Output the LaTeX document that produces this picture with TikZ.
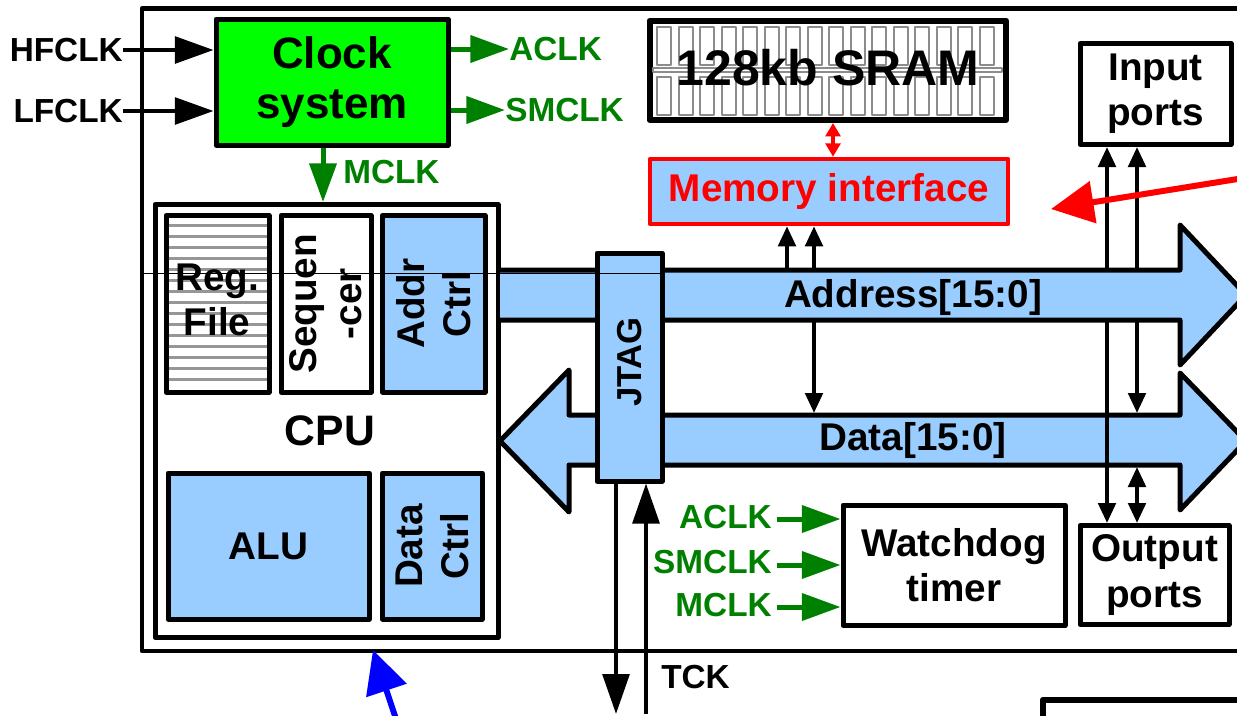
\documentclass[tikz,border=0pt]{standalone}
\usepackage{fontspec}
\setmainfont{Liberation Sans}
\usetikzlibrary{arrows.meta,fit}
\definecolor{busblue}{RGB}{153,204,255}
\definecolor{clkgreen}{RGB}{0,255,0}
\definecolor{sigreen}{RGB}{0,128,0}
\definecolor{cellgray}{RGB}{140,140,140}
\definecolor{hatchgray}{RGB}{150,150,150}

\begin{document}
\begin{tikzpicture}[x=0.75pt,y=-0.75pt,line join=round,
  blk/.style={draw=black,line width=3.75pt,inner sep=0pt},
  wbox/.style={blk,fill=white},
  bbox/.style={blk,fill=busblue},
  lbltwentynine/.style={inner sep=0pt,align=center,font=\bfseries\fontsize{29}{34}\selectfont},
  lblclock/.style={inner sep=0pt,align=center,font=\bfseries\fontsize{33}{38}\selectfont},
  lblcpu/.style={inner sep=0pt,font=\bfseries\fontsize{32}{36}\selectfont},
  lblsram/.style={inner sep=0pt,font=\bfseries\fontsize{37.5}{42}\selectfont},
  lbljtag/.style={inner sep=0pt,font=\bfseries\fontsize{26}{30}\selectfont},
  lblsig/.style={inner sep=0pt,font=\bfseries\fontsize{25}{29}\selectfont},
  gsig/.style={lblsig,text=sigreen},
  blkarr/.style={line width=3pt,-{Triangle[length=29pt,width=20pt]}},
  grnarr/.style={draw=sigreen,line width=3.75pt,-{Triangle[length=29pt,width=20pt]}},
  thinarr/.style={line width=3pt,-{Triangle[length=15pt,width=13pt]}},
  thindbl/.style={line width=3pt,{Triangle[length=15pt,width=13pt]}-{Triangle[length=15pt,width=13pt]}},
  jtagarr/.style={line width=3pt,-{Triangle[length=30pt,width=20pt]}},
  callout/.style={line width=4.5pt,-{Triangle[length=32pt,width=31pt]}},
]
\useasboundingbox (0,0) rectangle (1237,715);
\clip (0,0) rectangle (1237,715);

% chip outline and neighbouring block
\draw[line width=3.4pt] (1250,8.5) -- (142,8.5) -- (142,651) -- (1250,651);
\draw[line width=5pt] (1250,700) -- (1043,700) -- (1043,730);

% helper coordinates for bus edges and connector columns
\coordinate (abt) at (0,268);
\coordinate (abb) at (0,321);
\coordinate (dbt) at (0,413);
\coordinate (dbb) at (0,467);
\coordinate (bot) at (0,714);
\coordinate (xm1) at (787,0);
\coordinate (xm2) at (814,0);
\coordinate (xr) at (833,0);
\coordinate (xa) at (1107,0);
\coordinate (xb) at (1137,0);
\coordinate (xj1) at (616,0);
\coordinate (xj2) at (646,0);
\coordinate (mx) at (323,0);

% clock system
\node[blk,fill=clkgreen,fit={(216,19)(448,145)}] (clk) {};
\node[lblclock] (clklbl) at (clk.center) {Clock\\system};
\node[lblsig,anchor=east] (hf) at (123,50) {HFCLK};
\node[lblsig,anchor=east] (lf) at (123,111) {LFCLK};
\draw[blkarr] (hf.east) -- (hf.east -| clk.west);
\draw[blkarr] (lf.east) -- (lf.east -| clk.west);
\node[gsig,anchor=west] (aclk) at (509,49) {ACLK};
\node[gsig,anchor=west] (smclk) at (505,110) {SMCLK};
\draw[grnarr] (aclk.west -| clk.east) -- (aclk.west);
\draw[grnarr] (smclk.west -| clk.east) -- (smclk.west);
\node[gsig,anchor=west] (mclk) at (343,172) {MCLK};

% CPU
\node[wbox,fit={(155,204.5)(498,637.5)}] (cpu) {};
\draw[grnarr] (mx |- clk.south) -- (mx |- cpu.north);
\node[wbox,fit={(166,215.5)(269,392)}] (reg) {};
\foreach \k in {0,...,14}
  \draw[hatchgray,line width=2.25pt] (169,{225+11*\k}) -- (266.5,{225+11*\k});
\node[lbltwentynine] (reglbl) at (217,300) {Reg.\\File};
\node[wbox,fit={(281,215.5)(371,392)}] (seq) {};
\node[lbltwentynine,rotate=90] (seqlbl) at (seq.center) {Sequen\\-cer};
\node[bbox,fit={(382.5,215.5)(485,392)}] (addr) {};
\node[lbltwentynine,rotate=90] (addrlbl) at (addr.center) {Addr\\Ctrl};
\node[lblcpu] (cpulbl) at (330,431) {CPU};
\node[bbox,fit={(168,473)(369,619)}] (alu) {};
\node[lbltwentynine] (alulbl) at (alu.center) {ALU};
\node[bbox,fit={(382.5,473)(482,619)}] (dctl) {};
\node[lbltwentynine,rotate=90] (dctllbl) at (dctl.center) {Data\\Ctrl};

% ports and peripherals
\node[wbox,fit={(1080,43.5)(1231,144.5)}] (inp) {};
\node[lbltwentynine] (inplbl) at (inp.center) {Input\\ports};
\node[wbox,fit={(1080,525.5)(1229,624.5)}] (outp) {};
\node[lbltwentynine] (outplbl) at (outp.center) {Output\\ports};
\node[wbox,fit={(843,505)(1065,625.5)}] (wdt) {};
\node[lbltwentynine] (wdtlbl) at (wdt.center) {Watchdog\\timer};

% data bus (double-headed)
\draw[fill=busblue,line width=3.75pt] (500,441) -- (569,370) -- (569,415) -- (1180,415)
  -- (1180,373) -- (1246,441) -- (1180,510) -- (1180,465) -- (569,465) -- (569,512) -- cycle;
\draw[thindbl] (xa |- outp.north) -- (xa |- inp.south);

% address bus
\fill[busblue] (500,270) -- (1180,270) -- (1180,225) -- (1246,295) -- (1180,365) -- (1180,320) -- (500,320) -- cycle;
\draw[line width=3.75pt] (498,270) -- (1180,270) -- (1180,225) -- (1246,295) -- (1180,365) -- (1180,320) -- (498,320);
\node[lbltwentynine] (alab) at (913,297) {Address[15:0]};
\node[lbltwentynine] (dlab) at (913,440) {Data[15:0]};

% JTAG
\node[bbox,fit={(597,253)(662,481)}] (jtag) {};
\node[lbljtag,rotate=90] (jtaglbl) at (630,362) {JTAG};
\draw[jtagarr] (xj1 |- jtag.south) -- (xj1 |- bot);
\draw[jtagarr] (xj2 |- bot) -- (xj2 |- jtag.south);
\node[lblsig,anchor=west] (tck) at (661,677) {TCK};

% memory
\node[wbox,line width=4.5pt,fit={(649.5,20.5)(1006,120)}] (sram) {};
\foreach \i in {0,...,15} {
  \draw[cellgray,line width=1.5pt] ({657+21.5*\i},27) rectangle ++(14,38);
  \draw[cellgray,line width=1.5pt] ({657+21.5*\i},77) rectangle ++(14,38);
}
\draw[cellgray,line width=1.5pt] (653,67.5) rectangle (1002,72);
\node[lblsram] (sramlbl) at (828,68) {128kb SRAM};
\node[draw=red,line width=3.4pt,fill=busblue,inner sep=0pt,fit={(650,159)(1008,224)}] (memif) {};
\node[lbltwentynine,text=red] (memlbl) at (memif.center) {Memory interface};
\draw[red,line width=3pt,{Triangle[length=10pt,width=11pt]}-{Triangle[length=10pt,width=11pt]}]
  (xr |- sram.south) -- (xr |- memif.north);
\draw[thinarr] (xm1 |- abt) -- (xm1 |- memif.south);
\draw[thinarr] (xm2 |- abt) -- (xm2 |- memif.south);
\draw[thinarr] (xm2 |- abb) -- (xm2 |- dbt);

% port connections
\draw[thinarr] (xb |- abt) -- (xb |- inp.south);
\draw[thinarr] (xb |- abb) -- (xb |- dbt);
\draw[thindbl] (xb |- dbb) -- (xb |- outp.north);

% watchdog clocks
\node[gsig,anchor=east] (wa) at (772,517) {ACLK};
\node[gsig,anchor=east] (ws) at (772,562) {SMCLK};
\node[gsig,anchor=east] (wm) at (772,605) {MCLK};
\draw[grnarr] ([xshift=4pt]wa.east |- 0,519) -- (wdt.west |- 0,519);
\draw[grnarr] ([xshift=4pt]ws.east |- 0,565) -- (wdt.west |- 0,565);
\draw[grnarr] ([xshift=4pt]wm.east |- 0,607) -- (wdt.west |- 0,607);

% hairline across the CPU and JTAG
\draw[line width=0.75pt] (142,273) -- (662,273);

% pointer arrows
\coordinate (rs) at (1250,177);
\coordinate (rt) at (1051,209);
\draw[red,callout] (rs) -- (rt);
\coordinate (bs) at (398,725);
\coordinate (bt) at (373,650);
\draw[blue,callout] (bs) -- (bt);
\end{tikzpicture}
\end{document}
